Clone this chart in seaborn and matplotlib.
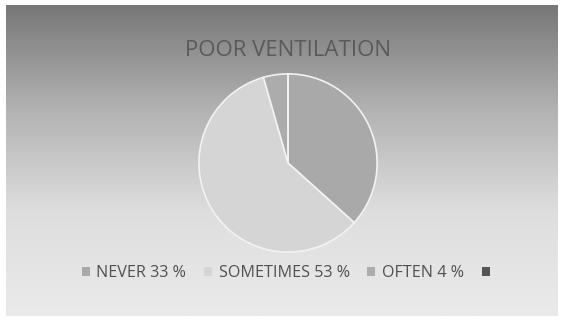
import numpy as np
import matplotlib
matplotlib.use("Agg")
import matplotlib.pyplot as plt
import seaborn as sns

# Survey answers for "poor ventilation"
categories = ["NEVER", "SOMETIMES", "OFTEN", ""]
shares = [33, 53, 4, 0]
legend_labels = ["NEVER 33 %", "SOMETIMES 53 %", "OFTEN 4 %", ""]
title = "POOR VENTILATION"

sns.set_theme(style="white")
plt.rcParams["font.family"] = ["Open Sans", "DejaVu Sans"]

slice_colors = ["#a9a9a9", "#d5d5d5", "#acacac", "#555555"]

W, H = 564, 321
fig = plt.figure(figsize=(W / 100, H / 100), dpi=100, facecolor="white")

# Grey gradient panel behind the chart
bg = fig.add_axes([6 / W, 5 / H, 552 / W, 311 / H], zorder=0)
grad = np.linspace(0, 1, 256).reshape(-1, 1)
cmap = matplotlib.colors.LinearSegmentedColormap.from_list(
    "panel", ["#777777", "#b2b2b2", "#dedede", "#eaeaea"])
bg.imshow(grad, aspect="auto", cmap=cmap, extent=[0, 1, 0, 1], origin="upper")
bg.set_axis_off()

# Pie
cx, cy, r = 288, 163, 90
ax = fig.add_axes([(cx - r) / W, (H - cy - r) / H, 2 * r / W, 2 * r / H], zorder=1)
ax.patch.set_alpha(0)
wedges, _ = ax.pie(shares, colors=slice_colors, startangle=90, counterclock=False,
                   radius=1.0, wedgeprops=dict(edgecolor="#f2f2f2", linewidth=1.2))
ax.set_xlim(-1.01, 1.01)
ax.set_ylim(-1.01, 1.01)
ax.set_aspect("equal")
ax.set_axis_off()

fig.text(cx / W, 1 - 50 / H, title, ha="center", va="center",
         fontsize=16, color="#5a5a5a")

leg = fig.legend(wedges, legend_labels, loc="center", bbox_to_anchor=(289 / W, 1 - 273 / H),
                 ncol=4, frameon=False, fontsize=11.6, handlelength=0.5, handleheight=0.5,
                 handletextpad=0.4, columnspacing=1.1, labelcolor="#505050")
for h in leg.legend_handles:
    h.set_edgecolor("none")

fig.savefig("out.png", dpi=100, facecolor="white")
